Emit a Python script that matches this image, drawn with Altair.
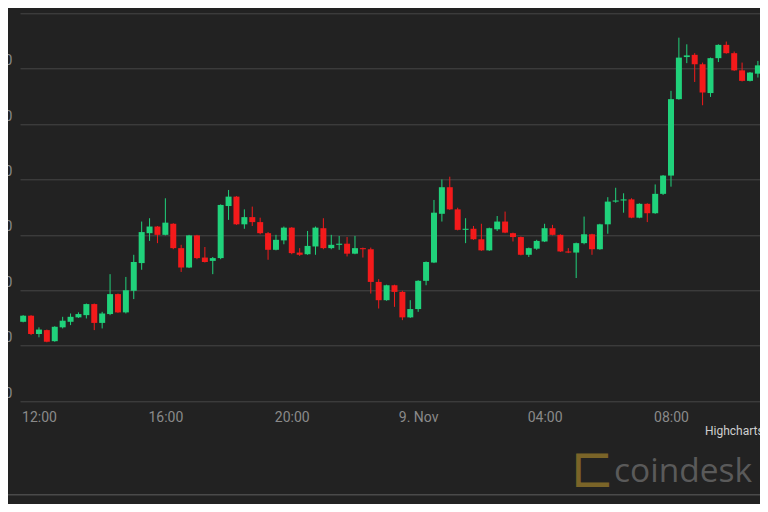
import altair as alt
import pandas as pd

GREEN = "#20d27b"
RED = "#f31a1b"
BG = "#222222"

opens = [15143,15154,15121,15128,15108,15133,15143,15151,15155,15175,
         15141,15157,15193,15160,15199,15249,15303,15315,15300,15320,
         15276,15241,15299,15259,15253,15258,15352,15369,15319,15332,
         15323,15303,15273,15290,15313,15268,15265,15279,15312,15276,
         15282,15284,15266,15276,15274,15215,15182,15209,15197,15151,
         15166,15217,15250,15338,15386,15346,15309,15311,15292,15272,
         15310,15324,15303,15296,15264,15275,15288,15312,15300,15270,
         15268,15285,15301,15274,15319,15360,15362,15364,15331,15356,
         15339,15374,15407,15545,15621,15625,15608,15556,15619,15643,
         15628,15597,15578,15591,15605]
highs = [15155,15155,15133,15129,15135,15152,15158,15160,15176,15176,
         15161,15229,15194,15224,15264,15324,15330,15316,15366,15321,
         15282,15300,15300,15278,15260,15355,15381,15370,15346,15351,
         15331,15305,15300,15315,15314,15276,15307,15315,15330,15300,
         15298,15296,15298,15277,15277,15220,15210,15210,15199,15182,
         15218,15252,15363,15400,15405,15349,15330,15316,15320,15313,
         15334,15342,15304,15297,15277,15291,15320,15318,15301,15276,
         15286,15333,15302,15320,15368,15385,15375,15366,15357,15357,
         15391,15408,15560,15656,15644,15628,15611,15620,15644,15649,
         15631,15611,15594,15614,15613]
lows = [15142,15119,15115,15106,15107,15131,15137,15150,15149,15128,
        15131,15155,15159,15158,15184,15237,15289,15285,15299,15274,
        15233,15240,15256,15250,15229,15256,15327,15318,15311,15316,
        15301,15255,15272,15283,15265,15262,15264,15264,15274,15274,
        15273,15261,15265,15259,15194,15167,15181,15170,15146,15150,
        15161,15209,15249,15324,15345,15308,15285,15291,15271,15271,
        15307,15303,15288,15263,15260,15273,15287,15299,15269,15267,
        15222,15283,15264,15273,15302,15358,15340,15330,15330,15323,
        15338,15372,15387,15544,15610,15576,15534,15549,15612,15627,
        15596,15577,15577,15584,15598]
closes = [15154,15121,15129,15107,15134,15145,15152,15157,15175,15141,
          15158,15193,15160,15200,15251,15305,15315,15300,15322,15276,
          15241,15299,15258,15251,15258,15354,15369,15319,15332,15323,
          15303,15273,15291,15313,15267,15264,15280,15313,15276,15282,
          15284,15266,15276,15274,15215,15182,15209,15197,15151,15166,
          15217,15251,15340,15386,15346,15309,15311,15292,15272,15312,
          15324,15304,15296,15264,15276,15289,15312,15300,15270,15268,
          15285,15301,15274,15319,15360,15362,15364,15331,15356,15339,
          15374,15407,15545,15620,15624,15608,15557,15619,15643,15628,
          15597,15578,15593,15606,15607]

y_ticks = [15000, 15100, 15200, 15300, 15400, 15500, 15600, 15700]
x_tick_hours = [(8, 12), (8, 16), (8, 20), (9, 0), (9, 4), (9, 8)]

times = pd.date_range("2020-11-08 11:30", periods=len(opens), freq="15min")
df = pd.DataFrame({
    "t": times.strftime("%Y-%m-%dT%H:%M:%SZ"),
    "open": opens, "high": highs, "low": lows, "close": closes,
})

FONT = "Roboto"
x_domain = [alt.DateTime(year=2020, month=11, date=8, hours=11, minutes=24, utc=True),
            alt.DateTime(year=2020, month=11, date=9, hours=10, minutes=49, utc=True)]
x_values = [alt.DateTime(year=2020, month=11, date=d, hours=h, utc=True) for d, h in x_tick_hours]

x_enc = alt.X("t:T", title=None,
              scale=alt.Scale(type="utc", domain=x_domain, padding=0),
              axis=alt.Axis(values=x_values, grid=False, domain=False, ticks=False,
                            labelExpr="utchours(datum.value) == 0 ? utcFormat(datum.value, '%-d. %b') : utcFormat(datum.value, '%H:%M')",
                            labelFlush=False, labelPadding=16, labelBaseline="middle",
                            labelFont=FONT, labelFontSize=14, labelColor="#8a8a8a"))

y_scale = alt.Scale(domain=[15000, 15700], nice=False, zero=False, padding=0)
y_axis = alt.Axis(values=y_ticks, grid=True, gridColor="#474747", gridWidth=1,
                  domain=False, ticks=False, tickSize=0, labelPadding=8, labelOffset=-8,
                  labelExpr="datum.value >= 15700 ? '' : format(datum.value, ',')",
                  labelFont=FONT, labelFontSize=14, labelColor="#8a8a8a", labelBaseline="middle")

base = alt.Chart(df).transform_calculate(
    dir="datum.close >= datum.open ? 'up' : 'down'"
).encode(
    x=x_enc,
    color=alt.Color("dir:N", scale=alt.Scale(domain=["up", "down"], range=[GREEN, RED]), legend=None),
)

wicks = base.mark_rule(strokeWidth=1).encode(
    y=alt.Y("low:Q", scale=y_scale, axis=y_axis, title=None),
    y2="high:Q",
)
bodies = base.mark_bar(size=6).encode(
    y=alt.Y("open:Q", scale=y_scale, title=None),
    y2="close:Q",
)

credit = alt.Chart(pd.DataFrame({"s": ["Highcharts.com"]})).mark_text(
    align="left", baseline="middle", font=FONT, fontSize=12, color="#cfcfcf"
).encode(x=alt.value(685), y=alt.value(418), text="s:N")

logo_icon = alt.Chart(pd.DataFrame({"s": ["匚"]})).mark_text(
    align="center", baseline="middle", font="Noto Sans CJK SC", fontSize=40,
    fontWeight="bold", color="#7a6428"
).encode(x=alt.value(572), y=alt.value(459.5), text="s:N")

logo_text = alt.Chart(pd.DataFrame({"s": ["coindesk"]})).mark_text(
    align="left", baseline="alphabetic", font="Open Sans", fontSize=33.5, color="#5a5a5a"
).encode(x=alt.value(594), y=alt.value(469), text="s:N")

sep = alt.Chart(pd.DataFrame({"a": [0]})).mark_rule(color="#4a4a4a", strokeWidth=1.5).encode(
    x=alt.value(-20), x2=alt.value(748), y=alt.value(481.5)
)

chart = alt.layer(wicks, bodies, credit, logo_icon, logo_text, sep).properties(
    width=740, height=387.7,
    padding={"left": 12, "top": 5.3, "right": 0, "bottom": 103},
    autosize=alt.AutoSizeParams(type="none"),
    background=BG,
).configure_view(strokeWidth=0)

chart.save("out.html", embed_options={"renderer": "svg", "actions": False})
